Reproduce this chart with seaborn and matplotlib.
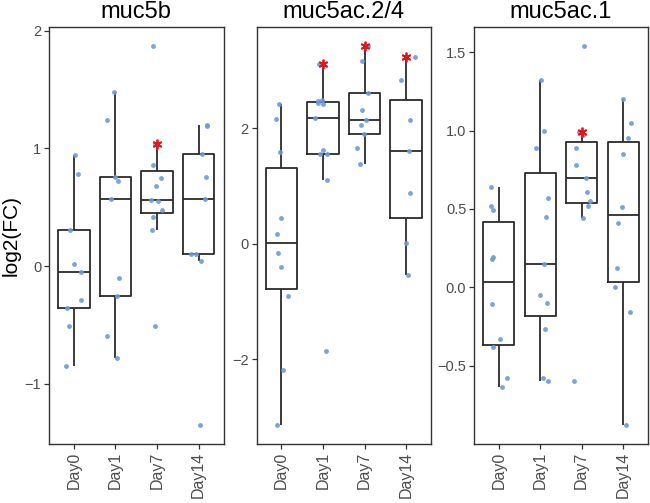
import numpy as np
import pandas as pd
import matplotlib
matplotlib.use("Agg")
import matplotlib.pyplot as plt
import seaborn as sns

days = ["Day0", "Day1", "Day7", "Day14"]
genes = ["muc5b", "muc5ac.2/4", "muc5ac.1"]

muc5b_day0 = [0.94, 0.78, 0.31, 0.02, -0.05, -0.29, -0.36, -0.51, -0.85]
muc5b_day1 = [1.48, 1.24, 0.76, 0.72, 0.57, -0.10, -0.25, -0.59, -0.78]
muc5b_day7 = [1.87, 1.04, 0.86, 0.75, 0.68, 0.56, 0.55, 0.48, 0.42, 0.31, -0.51]
muc5b_day14 = [1.20, 1.19, 0.95, 0.76, 0.57, 0.10, 0.10, 0.04, -1.35]

muc5ac24_day0 = [2.41, 2.16, 1.59, 0.44, 0.17, -0.16, -0.41, -0.90, -2.18, -3.14]
muc5ac24_day1 = [3.11, 2.48, 2.46, 2.44, 2.42, 2.18, 1.62, 1.55, 1.55, 1.10, -1.86]
muc5ac24_day7 = [3.42, 3.16, 2.61, 2.31, 2.14, 2.05, 1.90, 1.66, 1.38]
muc5ac24_day14 = [3.23, 2.83, 2.14, 1.61, 0.88, 0.01, -0.55]

muc5ac1_day0 = [0.64, 0.52, 0.49, 0.19, 0.18, -0.11, -0.33, -0.38, -0.58, -0.64]
muc5ac1_day1 = [1.32, 1.00, 0.89, 0.57, 0.45, 0.15, -0.05, -0.10, -0.27, -0.58, -0.60]
muc5ac1_day7 = [1.54, 0.99, 0.97, 0.89, 0.78, 0.70, 0.61, 0.55, 0.52, 0.44, -0.60]
muc5ac1_day14 = [1.20, 1.05, 0.95, 0.85, 0.51, 0.41, 0.12, 0.00, -0.16, -0.88]

# significance marks (gene -> days with a red asterisk)
significant = {
    "muc5b": ["Day7"],
    "muc5ac.2/4": ["Day1", "Day7", "Day14"],
    "muc5ac.1": ["Day7"],
}

yticks = {
    "muc5b": [-1, 0, 1, 2],
    "muc5ac.2/4": [-2, 0, 2],
    "muc5ac.1": [-0.5, 0.0, 0.5, 1.0, 1.5],
}
ytick_labels = {
    "muc5b": ["\u22121", "0", "1", "2"],
    "muc5ac.2/4": ["\u22122", "0", "2"],
    "muc5ac.1": ["\u22120.5", "0.0", "0.5", "1.0", "1.5"],
}

series = {
    "muc5b": [muc5b_day0, muc5b_day1, muc5b_day7, muc5b_day14],
    "muc5ac.2/4": [muc5ac24_day0, muc5ac24_day1, muc5ac24_day7, muc5ac24_day14],
    "muc5ac.1": [muc5ac1_day0, muc5ac1_day1, muc5ac1_day7, muc5ac1_day14],
}

rows = []
for g in genes:
    for d, vals in zip(days, series[g]):
        for v in vals:
            rows.append({"gene": g, "day": d, "value": v})
df = pd.DataFrame(rows)

sns.set_theme(style="white")
plt.rcParams["font.family"] = ["Liberation Sans", "DejaVu Sans"]

W, H = 650, 503
fig = plt.figure(figsize=(W / 100, H / 100), dpi=100)
panels_px = [(49, 223.5), (256.5, 431), (474, 648)]
top_px, bot_px = 27, 444

line_c = "#2B2B2B"
pt_c = "#6E9BD3"
np.random.seed(3)

for i, g in enumerate(genes):
    l, r = panels_px[i]
    ax = fig.add_axes([l / W, 1 - bot_px / H, (r - l) / W, (bot_px - top_px) / H])
    sub = df[df.gene == g]
    sns.boxplot(data=sub, x="day", y="value", order=days, ax=ax, fill=False,
                color=line_c, linecolor=line_c, linewidth=1.3, width=0.75,
                showfliers=False, whis=1.5, showcaps=False)
    sns.stripplot(data=sub, x="day", y="value", order=days, ax=ax, jitter=0.22,
                  color=pt_c, size=3.5, linewidth=0, alpha=0.9, zorder=3)
    # asterisks at the upper whisker of significant groups
    for d in significant[g]:
        vals = np.array(sub[sub.day == d].value)
        q1, q3 = np.percentile(vals, [25, 75])
        upper = vals[vals <= q3 + 1.5 * (q3 - q1)].max()
        ax.plot([days.index(d)], [upper], marker=(6, 2, 0), color="#E8141A",
                markersize=7, mew=1.3, linestyle="none", zorder=4)
    vmin, vmax = sub.value.min(), sub.value.max()
    rng = vmax - vmin
    ax.set_ylim(vmin - 0.05 * rng, vmax + 0.05 * rng)
    ax.set_xlim(-0.6, 3.6)
    ax.set_yticks(yticks[g])
    ax.set_yticklabels(ytick_labels[g])
    ax.set_xticks(range(len(days)))
    ax.set_xticklabels(days, rotation=90)
    ax.tick_params(axis="both", which="both", direction="out", length=3.5, width=0.9,
                   color="#333333", labelcolor="#4D4D4D", pad=2, left=True, bottom=True)
    ax.tick_params(axis="x", labelsize=11.5)
    ax.tick_params(axis="y", labelsize=10.5)
    for s in ax.spines.values():
        s.set_visible(True)
        s.set_color("#333333")
        s.set_linewidth(1.0)
    ax.set_xlabel("")
    ax.set_ylabel("log2(FC)" if i == 0 else "", fontsize=15, color="black", labelpad=3)
    ax.set_title(g, fontsize=17, color="black", pad=6.5)
    ax.grid(False)
    ax.set_facecolor("white")

fig.savefig("out.png", dpi=100, facecolor="white")
